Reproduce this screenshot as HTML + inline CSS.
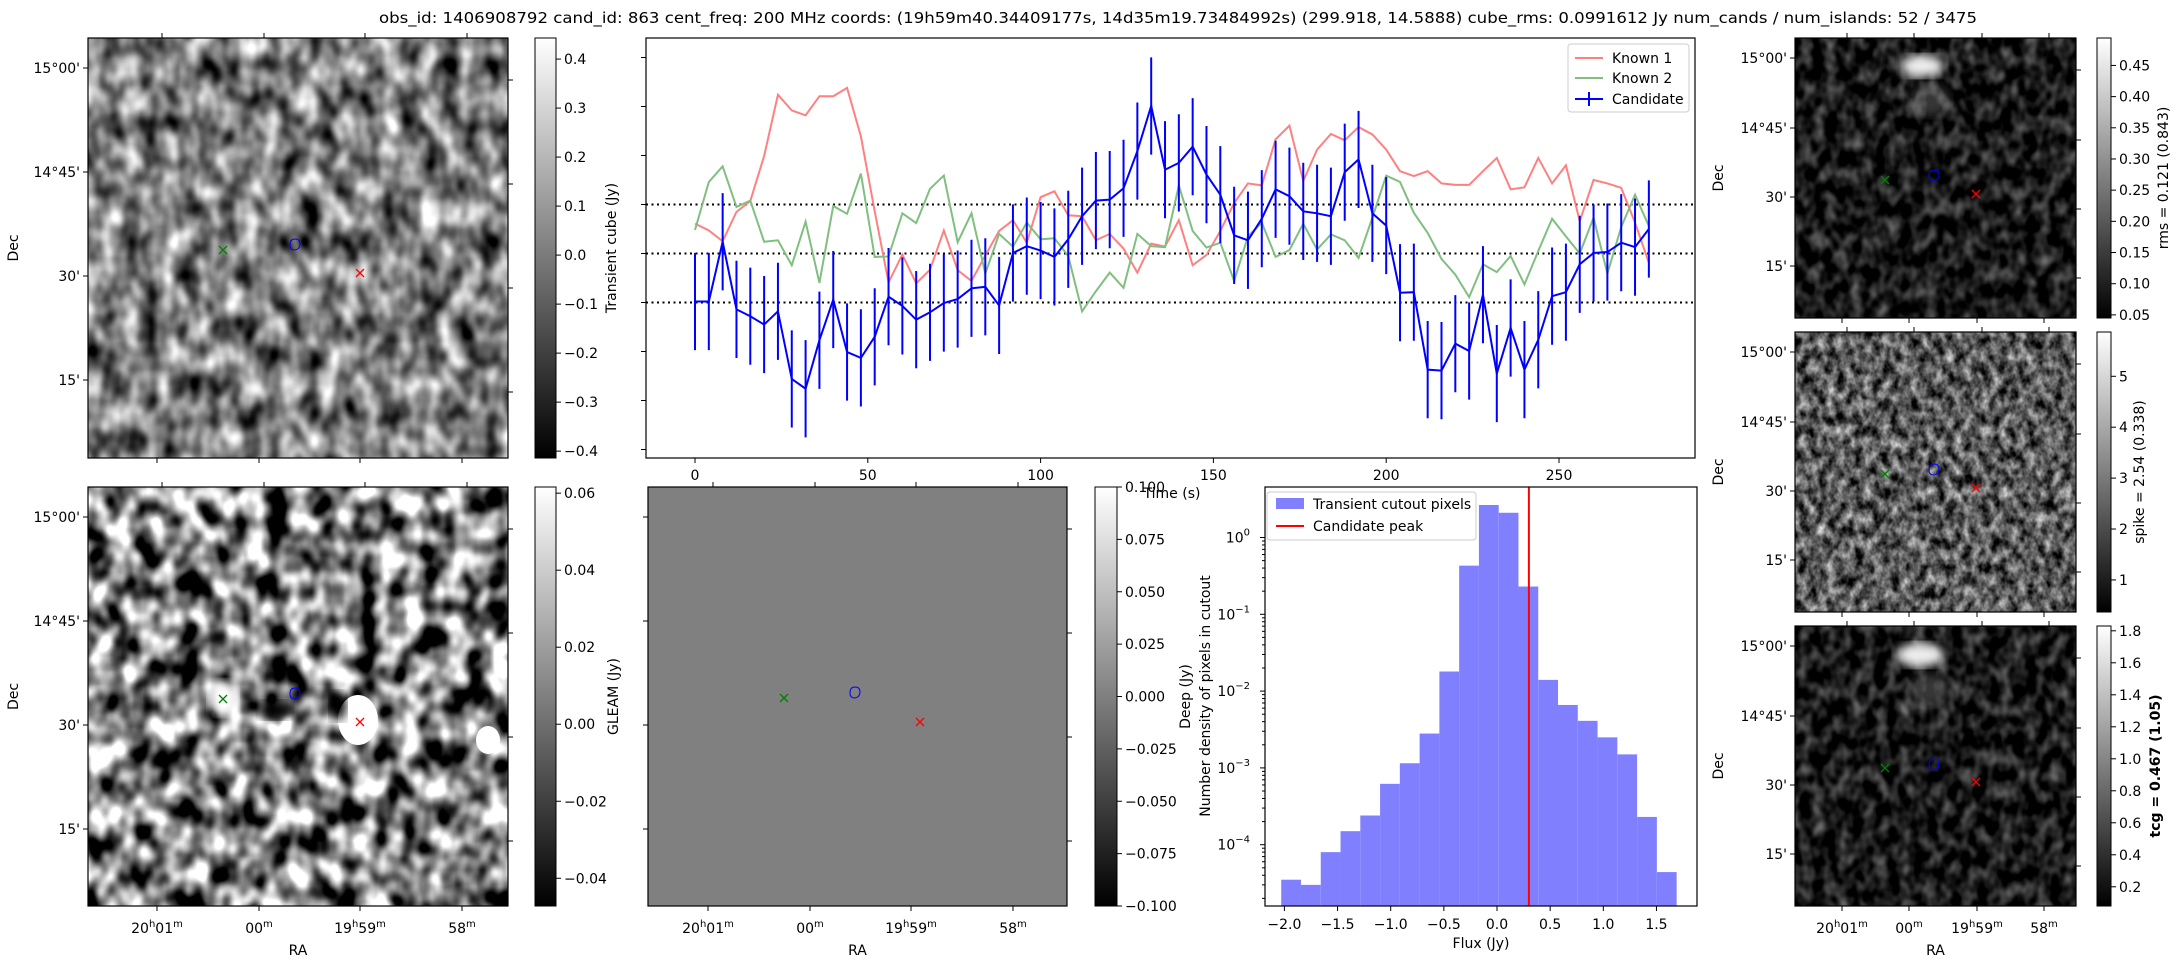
<!DOCTYPE html>
<html><head><meta charset="utf-8">
<style>
html,body{margin:0;padding:0;background:#fff;}
svg{display:block;font-family:"DejaVu Sans","Liberation Sans",sans-serif;}
text{fill:#000;}
filter{color-interpolation-filters:sRGB;}
</style></head>
<body>
<svg id="fig" width="2179" height="960" viewBox="0 0 2179 960" xmlns="http://www.w3.org/2000/svg">
<defs>
  <linearGradient id="gcb" x1="0" y1="1" x2="0" y2="0">
    <stop offset="0" stop-color="#000"/><stop offset="1" stop-color="#fff"/>
  </linearGradient>
  <filter id="fTL" x="0" y="0" width="100%" height="100%" color-interpolation-filters="sRGB">
    <feTurbulence type="fractalNoise" baseFrequency="0.05 0.035" numOctaves="2" seed="3"/>
    <feColorMatrix type="matrix" values="1.6 0 0 0 -0.3  1.6 0 0 0 -0.3  1.6 0 0 0 -0.3  0 0 0 0 1"/>
  </filter>
  <filter id="fBL" x="0" y="0" width="100%" height="100%" color-interpolation-filters="sRGB">
    <feTurbulence type="fractalNoise" baseFrequency="0.045 0.035" numOctaves="2" seed="11"/>
    <feColorMatrix type="matrix" values="2.6 0 0 0 -0.8  2.6 0 0 0 -0.8  2.6 0 0 0 -0.8  0 0 0 0 1"/>
  </filter>
  <filter id="fDark" x="0" y="0" width="100%" height="100%" color-interpolation-filters="sRGB">
    <feTurbulence type="fractalNoise" baseFrequency="0.08 0.06" numOctaves="2" seed="5"/>
    <feColorMatrix type="matrix" values="0.8 0 0 0 -0.3  0.8 0 0 0 -0.3  0.8 0 0 0 -0.3  0 0 0 0 1"/>
  </filter>
  <filter id="fMid" x="0" y="0" width="100%" height="100%" color-interpolation-filters="sRGB">
    <feTurbulence type="fractalNoise" baseFrequency="0.11 0.08" numOctaves="3" seed="7"/>
    <feColorMatrix type="matrix" values="1.3 0 0 0 -0.3  1.3 0 0 0 -0.3  1.3 0 0 0 -0.3  0 0 0 0 1"/>
  </filter>
  <filter id="blur4" color-interpolation-filters="sRGB"><feGaussianBlur stdDeviation="5"/></filter>
  <clipPath id="cLC"><rect x="646" y="38" width="1049" height="420"/></clipPath>
  <clipPath id="cBL"><rect x="88" y="487" width="420" height="419"/></clipPath>
  <clipPath id="cR1"><rect x="1795" y="38" width="281" height="280"/></clipPath>
  <clipPath id="cR3"><rect x="1795" y="626" width="281" height="280"/></clipPath>
</defs>

<text x="1178" y="23" font-size="15.5" text-anchor="middle" textLength="1598" lengthAdjust="spacingAndGlyphs">obs_id: 1406908792 cand_id: 863 cent_freq: 200 MHz coords: (19h59m40.34409177s, 14d35m19.73484992s) (299.918, 14.5888) cube_rms: 0.0991612 Jy num_cands / num_islands: 52 / 3475</text>

<g>
  <rect x="88" y="38" width="420" height="420" filter="url(#fTL)"/>
</g>
<g clip-path="url(#cBL)">
  <rect x="88" y="487" width="420" height="419" filter="url(#fBL)"/>
  <ellipse cx="223" cy="698" rx="14" ry="17" fill="#fff" filter="url(#blur4)"/>
  <ellipse cx="358" cy="720" rx="20" ry="25" fill="#fff"/>
  <ellipse cx="338" cy="706" rx="8" ry="14" fill="#000" filter="url(#blur4)"/>
  <ellipse cx="275" cy="710" rx="16" ry="9" fill="#000" filter="url(#blur4)"/>
  <ellipse cx="488" cy="740" rx="12" ry="14" fill="#fff"/>
</g>
<rect x="648" y="487" width="419" height="419" fill="#808080"/>
<g clip-path="url(#cR1)">
  <rect x="1795" y="38" width="281" height="280" filter="url(#fDark)"/>
  <ellipse cx="1922" cy="66" rx="22" ry="11" fill="#eee" filter="url(#blur4)"/>
  <ellipse cx="1930" cy="100" rx="20" ry="16" fill="#888" fill-opacity="0.4" filter="url(#blur4)"/>
</g>
<g>
  <rect x="1795" y="332" width="281" height="280" filter="url(#fMid)"/>
</g>
<g clip-path="url(#cR3)">
  <rect x="1795" y="626" width="281" height="280" filter="url(#fDark)"/>
  <ellipse cx="1920" cy="655" rx="24" ry="12" fill="#eee" filter="url(#blur4)"/>
  <ellipse cx="1930" cy="690" rx="20" ry="16" fill="#888" fill-opacity="0.4" filter="url(#blur4)"/>
</g>

<g id="layer"></g>
</svg>

<script>
// ---------------- light curve data ----------------
const times = [0,4,8,12,16,20,24,28,32,36,40,44,48,52,56,60,64,68,72,76,80,84,88,92,96,100,104,108,112,116,120,124,128,132,136,140,144,148,152,156,160,164,168,172,176,180,184,188,192,196,200,204,208,212,216,220,224,228,232,236,240,244,248,252,256,260,264,268,272,276];
const candidateFlux = [-0.098,-0.098,0.024,-0.114,-0.128,-0.145,-0.118,-0.256,-0.276,-0.177,-0.094,-0.201,-0.213,-0.170,-0.088,-0.107,-0.135,-0.120,-0.101,-0.093,-0.071,-0.068,-0.106,0.001,0.015,0.006,-0.007,0.029,0.076,0.108,0.110,0.133,0.209,0.301,0.171,0.185,0.218,0.161,0.120,0.037,0.027,0.071,0.131,0.117,0.086,0.082,0.076,0.166,0.192,0.082,0.057,-0.080,-0.079,-0.237,-0.239,-0.184,-0.199,-0.084,-0.245,-0.152,-0.237,-0.176,-0.087,-0.079,-0.022,0.001,0.003,0.022,0.013,0.050];
const candidateErr = 0.0991612;
const known1Flux = [0.061,0.047,0.025,0.085,0.107,0.199,0.324,0.292,0.282,0.321,0.321,0.338,0.239,0.086,-0.059,-0.002,-0.061,-0.033,0.047,-0.034,-0.056,-0.004,0.046,0.068,0.022,0.115,0.127,0.078,0.076,0.027,0.040,0.010,-0.039,0.020,0.014,0.068,-0.024,-0.003,0.046,0.103,0.143,0.139,0.233,0.261,0.148,0.212,0.244,0.231,0.258,0.243,0.212,0.168,0.158,0.168,0.143,0.140,0.140,0.168,0.195,0.131,0.135,0.195,0.143,0.180,0.066,0.150,0.143,0.134,0.063,-0.019];
const known2Flux = [0.048,0.146,0.178,0.095,0.108,0.024,0.027,-0.024,0.065,-0.060,0.097,0.081,0.163,-0.007,-0.006,0.082,0.062,0.132,0.159,0.023,0.082,-0.041,0.040,0.014,0.063,0.029,0.031,-0.005,-0.118,-0.077,-0.039,-0.070,0.040,0.015,0.013,0.139,0.046,0.012,0.022,-0.056,0.035,0.063,-0.007,0.007,0.061,0.008,0.039,0.027,-0.009,0.073,0.159,0.146,0.083,0.042,-0.011,-0.043,-0.089,-0.022,-0.038,-0.005,-0.063,0.005,0.071,0.035,0.000,0.073,-0.041,0.054,0.120,0.056];
const lcHLines = [0.1, 0, -0.1];
const lcXTicks = [0,50,100,150,200,250];
const lcYTicks = [0.4,0.3,0.2,0.1,0.0,-0.1,-0.2,-0.3,-0.4];
// ---------------- histogram data ----------------
const histEdges = [-2.03,-1.844,-1.658,-1.472,-1.286,-1.1,-0.914,-0.728,-0.542,-0.356,-0.17,0.016,0.202,0.388,0.574,0.76,0.946,1.132,1.318,1.504,1.69];
const histDensity = [3.5e-5,3.0e-5,8e-5,1.5e-4,2.4e-4,6.2e-4,1.15e-3,2.8e-3,0.018,0.43,2.65,2.1,0.23,0.014,0.0066,0.0041,0.0025,0.0015,2.3e-4,4.4e-5];
const candidatePeak = 0.30;
const histXTicks = [-2.0,-1.5,-1.0,-0.5,0.0,0.5,1.0,1.5];
const histYTicks = [0,-1,-2,-3,-4];

const NS = "http://www.w3.org/2000/svg";
const layer = document.getElementById('layer');
function mk(tag, attrs, parent){ const e=document.createElementNS(NS,tag); for(const k in attrs) e.setAttribute(k,attrs[k]); (parent||layer).appendChild(e); return e; }
function txt(x,y,s,size,anchor,parent){ const t=mk('text',{x:x,y:y,'font-size':size||14,'text-anchor':anchor||'middle'},parent); t.textContent=s; return t; }

const lcX = t => 695 + t*3.456;
const lcY = v => 253.5 - v*490;
const hX = v => 1497 + v*106.3;
const hY = d => 537.5 - Math.log10(d)*76.8;

const raTicksBottom = [157,259,360,462];
function raLabel(x,y,h,m,parent){
  const t=mk('text',{x:x,y:y,'font-size':14,'text-anchor':'middle'},parent);
  if(h){ const a=document.createElementNS(NS,'tspan'); a.textContent=h; t.appendChild(a);
    const b=document.createElementNS(NS,'tspan'); b.setAttribute('dy','-6'); b.setAttribute('font-size','10'); b.textContent='h'; t.appendChild(b);
    const c=document.createElementNS(NS,'tspan'); c.setAttribute('dy','6'); c.textContent=m; t.appendChild(c);
  } else { const c=document.createElementNS(NS,'tspan'); c.textContent=m; t.appendChild(c); }
  const d=document.createElementNS(NS,'tspan'); d.setAttribute('dy','-6'); d.setAttribute('font-size','10'); d.textContent='m'; t.appendChild(d);
  return t;
}
function imagePanel(name,x0,y0,w,h,raX,decY,opts){
  const g=mk('g',{});
  
  
  mk('rect',{x:x0,y:y0,width:w,height:h,fill:'none',stroke:'#000','stroke-width':1.2},g);
  raX.forEach(x=>{ mk('line',{x1:x,y1:y0+h,x2:x,y2:y0+h+5,stroke:'#000'},g); mk('line',{x1:x+5,y1:y0,x2:x+5,y2:y0-5,stroke:'#000'},g); });
  decY.forEach(y=>{ mk('line',{x1:x0,y1:y,x2:x0-5,y2:y,stroke:'#000'},g); mk('line',{x1:x0+w,y1:y+12,x2:x0+w+5,y2:y+12,stroke:'#000'},g); });
  if(opts.decLabels){
    const labs=["15°00'","14°45'","30'","15'"];
    decY.forEach((y,i)=>txt(x0-8,y+5,labs[i],14,'end',g));
    const d=txt(0,0,'Dec',14,'middle',g); d.setAttribute('transform',`translate(${x0-(opts.decOff||70)},${y0+h/2}) rotate(-90)`);
  }
  if(opts.raLabels){
    raLabel(raX[0],y0+h+27,'20','01',g); raLabel(raX[1],y0+h+27,null,'00',g);
    raLabel(raX[2],y0+h+27,'19','59',g); raLabel(raX[3],y0+h+27,null,'58',g);
    txt(x0+w/2,y0+h+49,'RA',14,'middle',g);
  }
  return g;
}
function markers(parent,g,b,r){
  const m=mk('g',{},parent);
  
  
  [[g,'#008000'],[r,'#ff0000']].forEach(([p,c])=>{
    mk('path',{d:`M${p[0]-4},${p[1]-4}L${p[0]+4},${p[1]+4}M${p[0]-4},${p[1]+4}L${p[0]+4},${p[1]-4}`,stroke:c,'stroke-width':1.3,fill:'none'},m);
  });
  mk('path',{d:`M${b[0]-5},${b[1]+1} q0,-6 5,-6 q5,0 5,5 q0,5 -5,6 q-5,0 -5,-5z`,stroke:'#0000ff','stroke-width':1,fill:'none'},m);
}
imagePanel('transient-cube',88,38,420,420,raTicksBottom,[68,172,276,380],{decLabels:true});
markers(layer,[223,250],[295,244],[360,273]);
imagePanel('gleam',88,487,420,419,raTicksBottom,[517,621,725,829],{decLabels:true,raLabels:true});
markers(layer,[223,699],[295,693],[360,722]);
imagePanel('deep',648,487,419,419,[708,810,911,1013],[517,621,725,829],{raLabels:true});
markers(layer,[784,698],[855,692],[920,722]);
const rRA=[1842,1909,1977,2044];
imagePanel('rms',1795,38,281,280,rRA,[58,128,197,266],{decLabels:true,decOff:72});
markers(layer,[1885,180],[1934,175],[1976,194]);
imagePanel('spike',1795,332,281,280,rRA,[352,422,491,560],{decLabels:true,decOff:72});
markers(layer,[1885,474],[1934,469],[1976,488]);
imagePanel('tcg',1795,626,281,280,rRA,[646,716,785,854],{decLabels:true,raLabels:true,decOff:72});
markers(layer,[1885,768],[1934,764],[1976,782]);

function colorbar(name,x0,y0,w,h,vmin,vmax,ticks,fmt,label,labelX,bold){
  const g=mk('g',{});
  
  
  mk('rect',{x:x0,y:y0,width:w,height:h,fill:'url(#gcb)',stroke:'#000','stroke-width':1},g);
  ticks.forEach(v=>{
    const y=y0+h-(v-vmin)/(vmax-vmin)*h;
    mk('line',{x1:x0+w,y1:y,x2:x0+w+5,y2:y,stroke:'#000'},g);
    txt(x0+w+8,y+5,fmt(v),14,'start',g);
  });
  if(label){ const t=txt(0,0,label,14,'middle',g); t.setAttribute('transform',`translate(${labelX},${y0+h/2}) rotate(-90)`); if(bold) t.setAttribute('font-weight','bold'); }
}
const mfmt=d=>v=>(v<0?'\u2212':'')+Math.abs(v).toFixed(d);
colorbar('transient-colorbar',535,38,21,420,-0.414,0.443,[0.4,0.3,0.2,0.1,0,-0.1,-0.2,-0.3,-0.4],mfmt(1),'Transient cube (Jy)',616);
colorbar('gleam-colorbar',535,487,21,419,-0.0472,0.0616,[0.06,0.04,0.02,0,-0.02,-0.04],mfmt(2),'GLEAM (Jy)',618);
colorbar('deep-colorbar',1095,487,22,419,-0.1,0.1,[0.1,0.075,0.05,0.025,0,-0.025,-0.05,-0.075,-0.1],mfmt(3),'Deep (Jy)',1190);
colorbar('rms-colorbar',2097,38,14,280,0.045,0.494,[0.05,0.10,0.15,0.20,0.25,0.30,0.35,0.40,0.45],mfmt(2),'rms = 0.121 (0.843)',2168);
colorbar('spike-colorbar',2097,332,14,280,0.37,5.87,[1,2,3,4,5],v=>String(v),'spike = 2.54 (0.338)',2144);
colorbar('tcg-colorbar',2097,626,14,280,0.08,1.83,[0.2,0.4,0.6,0.8,1.0,1.2,1.4,1.6,1.8],mfmt(1),'tcg = 0.467 (1.05)',2160,true);

const lc=mk('g',{});


const lcPlot=mk('g',{'clip-path':'url(#cLC)'},lc);
lcHLines.forEach(v=>{ const l=mk('line',{x1:646,x2:1695,y1:lcY(v),y2:lcY(v),stroke:'#000','stroke-width':2,'stroke-dasharray':'2,3.5'},lcPlot);
  
   });
function series(vals,color,name){
  const p=mk('polyline',{points:vals.map((v,i)=>lcX(times[i])+','+lcY(v)).join(' '),fill:'none',stroke:color,'stroke-width':2},lcPlot);
  
  
}
series(known1Flux,'#ff8080','known-1-line');
series(known2Flux,'#80bf80','known-2-line');
const eb=mk('g',{},lcPlot);


candidateFlux.forEach((v,i)=>{ mk('line',{x1:lcX(times[i]),x2:lcX(times[i]),y1:lcY(v-candidateErr),y2:lcY(v+candidateErr),stroke:'#0000ff','stroke-width':2},eb); });
series(candidateFlux,'#0000ff','candidate-line');
mk('rect',{x:646,y:38,width:1049,height:420,fill:'none',stroke:'#000','stroke-width':1.2},lc);
lcXTicks.forEach(t=>{ mk('line',{x1:lcX(t),x2:lcX(t),y1:458,y2:463,stroke:'#000'},lc); txt(lcX(t),480,String(t),14,'middle',lc); });
lcYTicks.forEach(v=>{ mk('line',{x1:646,x2:641,y1:lcY(v),y2:lcY(v),stroke:'#000'},lc); });
const tl=txt(1172,498,'Time (s)',14,'middle',lc);


const lg=mk('g',{},lc);


mk('rect',{x:1568,y:44,width:121,height:68,rx:3,fill:'#fff','fill-opacity':0.8,stroke:'#ccc'},lg);
[['Known 1','#ff8080',58],['Known 2','#80bf80',78],['Candidate','#0000ff',99]].forEach(([s,c,y])=>{
  mk('line',{x1:1575,x2:1603,y1:y,y2:y,stroke:c,'stroke-width':2},lg);
  txt(1612,y+5,s,14,'start',lg);
});
mk('line',{x1:1589,x2:1589,y1:92,y2:106,stroke:'#0000ff','stroke-width':2},lg);

const hg=mk('g',{});


const hBottom=906;
histDensity.forEach((d,i)=>{
  const x1=hX(histEdges[i]), x2=hX(histEdges[i+1]);
  const r=mk('rect',{x:x1,y:hY(d),width:x2-x1,height:hBottom-hY(d),fill:'#8080ff'},hg);
  
  
});
const pk=mk('line',{x1:hX(candidatePeak),x2:hX(candidatePeak),y1:487,y2:906,stroke:'#ff0000','stroke-width':2},hg);


mk('rect',{x:1265,y:487,width:432,height:419,fill:'none',stroke:'#000','stroke-width':1.2},hg);
histXTicks.forEach(v=>{ mk('line',{x1:hX(v),x2:hX(v),y1:906,y2:911,stroke:'#000'},hg); txt(hX(v),929,(v<0?'\u2212':'')+Math.abs(v).toFixed(1),14,'middle',hg); });
histYTicks.forEach(e=>{
  const y=hY(Math.pow(10,e));
  mk('line',{x1:1265,x2:1260,y1:y,y2:y,stroke:'#000'},hg);
  const t=mk('text',{x:1250,y:y+5,'font-size':14,'text-anchor':'end'},hg);
  const a=document.createElementNS(NS,'tspan'); a.textContent='10'; t.appendChild(a);
  const b=document.createElementNS(NS,'tspan'); b.setAttribute('dy','-7'); b.setAttribute('font-size','10'); b.textContent=e===0?'0':'\u2212'+Math.abs(e); t.appendChild(b);
  for(let k=2;k<10;k++){ const ym=hY(k*Math.pow(10,e-1)); if(ym>487&&ym<906) mk('line',{x1:1265,x2:1262,y1:ym,y2:ym,stroke:'#000'},hg); }
});
const hyl=txt(0,0,'Number density of pixels in cutout',14,'middle',hg);
hyl.setAttribute('transform','translate(1210,696) rotate(-90)');
txt(1481,948,'Flux (Jy)',14,'middle',hg);
const hl=mk('g',{},hg);


mk('rect',{x:1267,y:492,width:209,height:48,rx:3,fill:'#fff','fill-opacity':0.8,stroke:'#ccc'},hl);
mk('rect',{x:1276,y:498,width:28,height:11,fill:'#8080ff'},hl);
txt(1313,509,'Transient cutout pixels',14,'start',hl);
mk('line',{x1:1276,x2:1304,y1:526,y2:526,stroke:'#ff0000','stroke-width':2},hl);
txt(1313,531,'Candidate peak',14,'start',hl);
</script>
</body></html>
